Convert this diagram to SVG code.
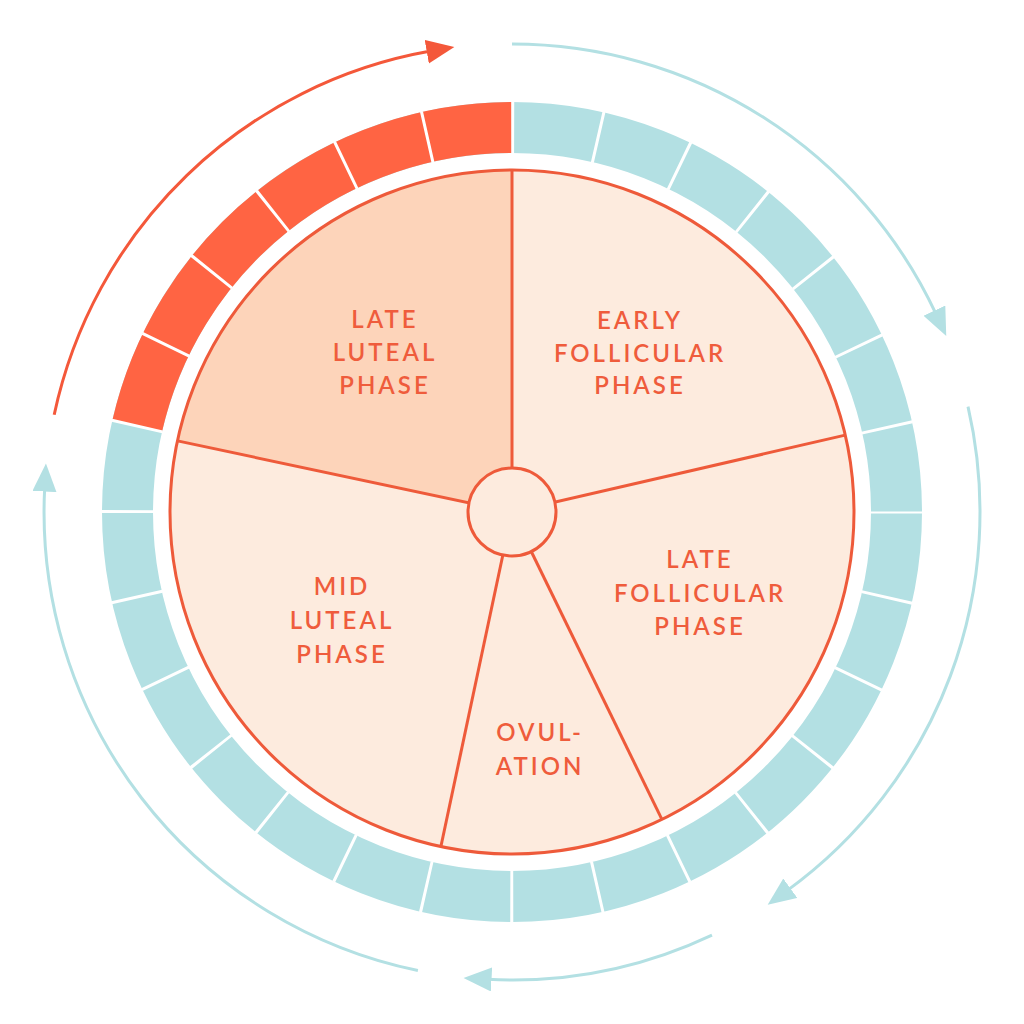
<svg xmlns="http://www.w3.org/2000/svg" width="1024" height="1024" viewBox="0 0 1024 1024">
<style>
.lbl{font-family:"Lato","Liberation Sans",sans-serif;font-size:24px;font-weight:600;letter-spacing:3px;fill:#ef5c3c;text-anchor:middle}
.edge{fill:none;stroke:#ee5a3a;stroke-width:3}
.arcT{fill:none;stroke:#b3e0e3;stroke-width:3}
.arcR{fill:none;stroke:#f4583a;stroke-width:3}
</style>
<defs>
<marker id="aT" markerUnits="userSpaceOnUse" markerWidth="32" markerHeight="26" refX="4" refY="12" orient="auto"><path d="M0,0 L28,12 L0,24 z" fill="#b3e0e3"/></marker>
<marker id="aR" markerUnits="userSpaceOnUse" markerWidth="32" markerHeight="26" refX="4" refY="12" orient="auto"><path d="M0,0 L28,12 L0,24 z" fill="#f4583a"/></marker>
</defs>
<rect width="1024" height="1024" fill="#ffffff"/>
<g id="ring">
<circle cx="512" cy="512" r="384.5" fill="none" stroke="#b3e0e3" stroke-width="51"/>
<path d="M137.1,426.4 A384.5,384.5 0 0 1 512,127.5" fill="none" stroke="#ff6443" stroke-width="51"/>
<circle cx="512" cy="512" r="384.5" fill="none" stroke="#ffffff" stroke-width="52" stroke-dasharray="3 83.28" stroke-dashoffset="1.5"/>
</g>
<g id="connectors">
<path class="arcR" d="M54.2,414.7 A468,468 0 0 1 430.7,51.1" marker-end="url(#aR)"/>
<path class="arcT" d="M512,44 A468,468 0 0 1 936.1,314.2" marker-end="url(#aT)"/>
<path class="arcT" d="M968,406.7 A468,468 0 0 1 787.1,890.6" marker-end="url(#aT)"/>
<path class="arcT" d="M712,935.1 A468,468 0 0 1 487.5,979.3" marker-end="url(#aT)"/>
<path class="arcT" d="M417.9,970.5 A468,468 0 0 1 44.7,487.5" marker-end="url(#aT)"/>
</g>
<g id="pie">
<circle cx="512" cy="512" r="342" fill="#fdebde"/>
<path d="M512,512 L177.5,440.9 A342,342 0 0 1 512,170 Z" fill="#fdd4ba"/>
<circle cx="512" cy="512" r="342" class="edge"/>
<line class="edge" x1="512" y1="512" x2="512" y2="170"/>
<line class="edge" x1="512" y1="512" x2="845.2" y2="435.1"/>
<line class="edge" x1="512" y1="512" x2="661.9" y2="819.4"/>
<line class="edge" x1="512" y1="512" x2="440.9" y2="846.5"/>
<line class="edge" x1="512" y1="512" x2="177.5" y2="440.9"/>
<circle id="hub" cx="512" cy="512" r="44" fill="#fdebde" stroke="#ee5a3a" stroke-width="3"/>
</g>
<g id="late-luteal"><text class="lbl" x="385" y="328">LATE</text><text class="lbl" x="385" y="361">LUTEAL</text><text class="lbl" x="385" y="394">PHASE</text></g>
<g id="early-follicular"><text class="lbl" x="640" y="329">EARLY</text><text class="lbl" x="640" y="362">FOLLICULAR</text><text class="lbl" x="640" y="394">PHASE</text></g>
<g id="late-follicular"><text class="lbl" x="700" y="568">LATE</text><text class="lbl" x="700" y="602">FOLLICULAR</text><text class="lbl" x="700" y="635">PHASE</text></g>
<g id="mid-luteal"><text class="lbl" x="342" y="595">MID</text><text class="lbl" x="342" y="629">LUTEAL</text><text class="lbl" x="342" y="663">PHASE</text></g>
<g id="ovulation"><text class="lbl" x="540" y="741">OVUL-</text><text class="lbl" x="540" y="775">ATION</text></g>
</svg>
